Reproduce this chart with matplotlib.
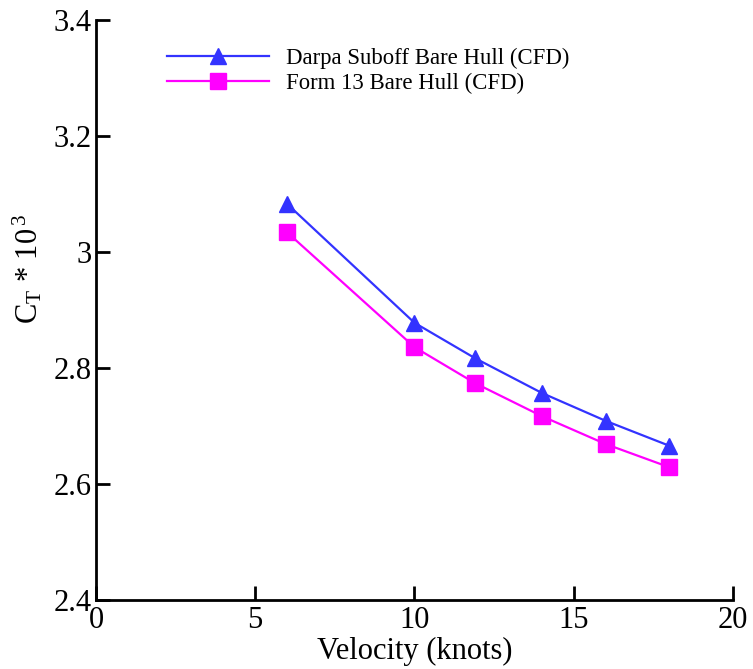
import matplotlib
matplotlib.use("Agg")
import matplotlib.pyplot as plt
from matplotlib.ticker import FuncFormatter

plt.rcParams['font.family'] = ['Liberation Serif', 'DejaVu Serif']
plt.rcParams['mathtext.fontset'] = 'custom'
plt.rcParams['mathtext.rm'] = 'Liberation Serif'
plt.rcParams['mathtext.it'] = 'Liberation Serif'

velocity = [6, 10, 11.9, 14, 16, 18]
suboff_ct = [3.083, 2.878, 2.817, 2.757, 2.709, 2.666]
form13_ct = [3.034, 2.836, 2.774, 2.717, 2.669, 2.629]
series_labels = ["Darpa Suboff Bare Hull (CFD)", "Form 13 Bare Hull (CFD)"]
x_ticks = [0, 5, 10, 15, 20]
y_ticks = [2.4, 2.6, 2.8, 3.0, 3.2, 3.4]

fig = plt.figure(figsize=(7.53, 6.69), dpi=100)
ax = fig.add_axes([0.1275, 0.1031, 0.9734 - 0.1275, 0.970 - 0.1031])

ax.plot(velocity, suboff_ct, color='#3333FF', lw=1.6, marker='^', ms=12,
        label=series_labels[0], clip_on=False)
ax.plot(velocity, form13_ct, color='#FF00FF', lw=1.6, marker='s', ms=11,
        label=series_labels[1], clip_on=False)

ax.set_xlim(0, 20)
ax.set_ylim(2.4, 3.4)
ax.set_xticks(x_ticks)
ax.set_yticks(y_ticks)
ax.yaxis.set_major_formatter(FuncFormatter(lambda v, p: f"{v:g}"))
ax.spines['top'].set_visible(False)
ax.spines['right'].set_visible(False)
for s in ('left', 'bottom'):
    ax.spines[s].set_linewidth(2)
ax.tick_params(direction='in', length=10, width=2, labelsize=22, pad=3)
ax.tick_params(axis='x', pad=4)

ax.set_xlabel("Velocity (knots)", fontsize=22, labelpad=2)
ax.set_ylabel(r"C$_{\mathrm{T}}$ * 10$^{\,3}$", fontsize=22)
ax.yaxis.set_label_coords(-0.081, 0.571)

leg = ax.legend(loc='upper left', bbox_to_anchor=(0.111, 0.952), frameon=False,
                fontsize=16.4, numpoints=1, handlelength=4.5, handletextpad=0.75,
                labelspacing=0.18, borderaxespad=0, borderpad=0)

fig.savefig("out.png", dpi=100)
